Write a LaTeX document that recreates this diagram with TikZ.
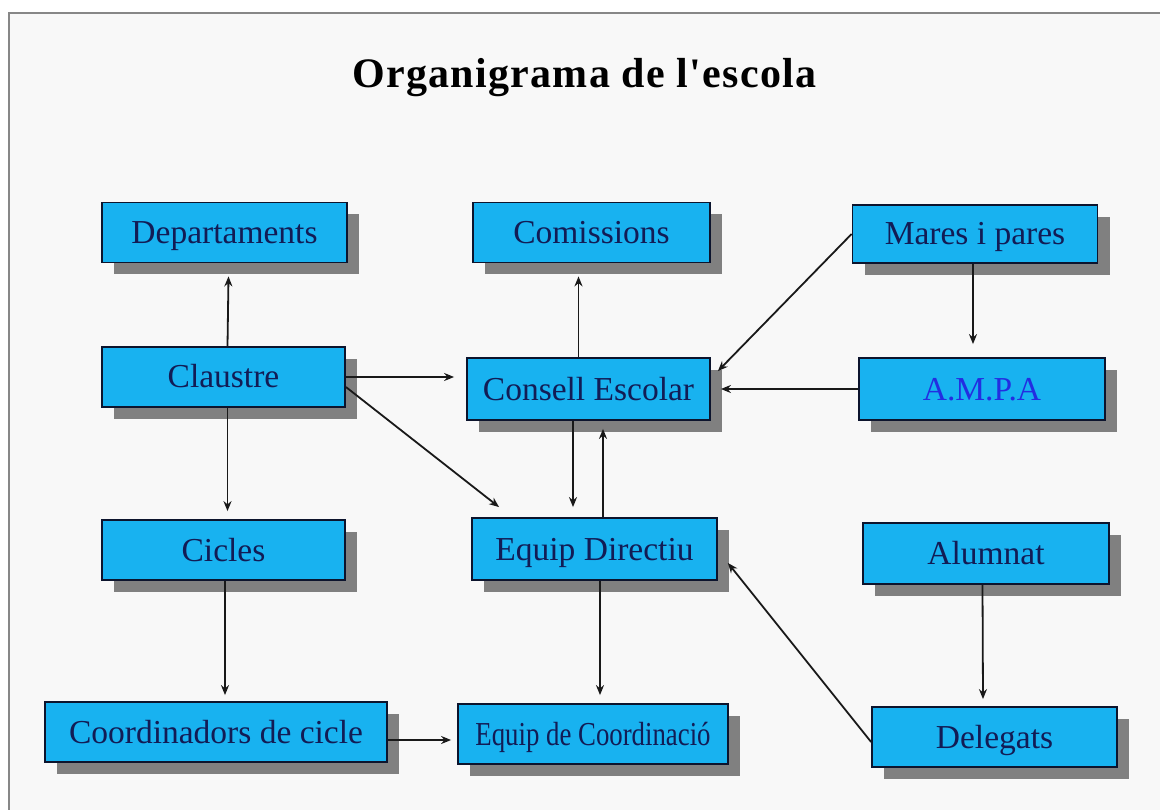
\documentclass[tikz,border=0pt]{standalone}
\usepackage{fontspec}
\setmainfont{Liberation Serif}
\newfontfamily\boxfont{Liberation Serif}
\newfontfamily\titlefont[LetterSpace=3]{Liberation Serif}
\usetikzlibrary{shadows,arrows.meta}
\definecolor{bgc}{RGB}{248,248,248}
\definecolor{framegray}{RGB}{135,135,135}
\definecolor{boxblue}{RGB}{24,178,240}
\definecolor{boxline}{RGB}{12,20,45}
\definecolor{navy}{RGB}{18,28,85}
\definecolor{ampablue}{RGB}{35,45,225}
\definecolor{shadowgray}{RGB}{128,128,128}
\definecolor{arrowc}{RGB}{25,25,25}
\begin{document}
\begin{tikzpicture}[x=1pt,y=-1pt,
  orgbox/.style={draw=boxline, line width=1.8pt, fill=boxblue,
    minimum width=245pt, minimum height=60pt, inner sep=0pt,
    text height=22pt, text depth=0pt,
    font=\boxfont\fontsize{33.5}{38}\selectfont, text=navy,
    drop shadow={shadow xshift=12pt, shadow yshift=-12pt, fill=shadowgray, opacity=1}},
  arr/.style={draw=arrowc, line width=1.8pt, -{Stealth[length=10pt,width=8pt]}}]
\useasboundingbox (0,0) rectangle (1160,810);
\fill[white] (0,0) rectangle (1160,810);
\fill[bgc] (9,13) rectangle (1160,810);
\draw[framegray, line width=2pt] (9,810) -- (9,13) -- (1160,13);

\node[anchor=base, font=\titlefont\bfseries\fontsize{42}{48}\selectfont] (title) at (584.5,88) {Organigrama de l'escola};

\node[orgbox] (dep) at (224.5,232.5) {Departaments};
\node[orgbox, minimum width=237pt] (com) at (591.5,232.5) {Comissions};
\node[orgbox, minimum height=58pt] (mar) at (975,234) {Mares i pares};
\node[orgbox, minimum width=243pt] (cla) at (223.5,377) {Claustre};
\node[orgbox, minimum width=243pt, minimum height=62pt] (con) at (588.5,389) {Consell Escolar};
\node[orgbox, minimum width=246pt, minimum height=62pt, text=ampablue] (amp) at (982,389) {A.M.P.A};
\node[orgbox, minimum width=243pt] (cic) at (223.5,550) {Cicles};
\node[orgbox, minimum height=62pt] (dir) at (594.5,549) {Equip Directiu};
\node[orgbox, minimum width=246pt, minimum height=61pt] (alu) at (986,553.5) {Alumnat};
\node[orgbox, minimum width=342pt] (coo) at (216,732) {Coordinadors de cicle};
\node[orgbox, minimum width=270pt] (eco) at (593,734) {\scalebox{0.8}[1]{Equip de Coordinació}};
\node[orgbox] (del) at (994.5,737) {Delegats};

\draw[arr] ([xshift=4pt]cla.north) -- ([xshift=4pt,yshift=-13pt]dep.south);
\draw[arr] ([xshift=4pt]cla.south) -- ([xshift=4pt,yshift=8pt]cic.north);
\draw[arr] ([xshift=1.5pt]cic.south) -- ([xshift=9pt,yshift=6pt]coo.north);
\draw[arr] (cla.east) -- ([xshift=-12pt,yshift=12pt]con.west);
\draw[arr] ([yshift=-10pt]cla.east) -- ([xshift=28pt,yshift=10pt]dir.north west);
\draw[arr] ([xshift=-10pt]con.north) -- ([xshift=-13pt,yshift=-13pt]com.south);
\draw[arr] ([xshift=-15.5pt]con.south) -- ([xshift=-21.5pt,yshift=10pt]dir.north);
\draw[arr] ([xshift=8.5pt]dir.north) -- ([xshift=14.5pt,yshift=-8pt]con.south);
\draw[arr] (mar.west) -- ([xshift=7pt,yshift=-14pt]con.north east);
\draw[arr] ([xshift=-2pt]mar.south) -- ([xshift=-9pt,yshift=13pt]amp.north);
\draw[arr] (amp.west) -- ([xshift=10pt]con.east);
\draw[arr] ([xshift=5.5pt]dir.south) -- ([xshift=7pt,yshift=8pt]eco.north);
\draw[arr] ([yshift=-8pt]coo.east) -- ([xshift=-6pt,yshift=-6pt]eco.west);
\draw[arr] ([yshift=-5pt]del.west) -- ([xshift=10pt,yshift=-14pt]dir.east);
\draw[arr] ([xshift=-3.5pt]alu.south) -- ([xshift=-11.5pt,yshift=7pt]del.north);
\end{tikzpicture}
\end{document}
